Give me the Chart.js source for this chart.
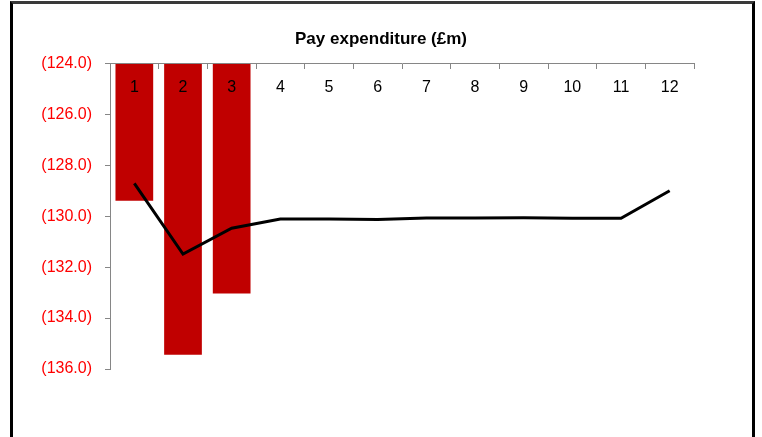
<!DOCTYPE html>
<html>
<head>
<meta charset="utf-8">
<script src="https://cdn.jsdelivr.net/npm/chart.js@4/dist/chart.umd.min.js"></script>
<style>
  html, body { margin: 0; padding: 0; overflow: hidden; background: #fff; }
  #wrap { position: relative; width: 762px; height: 437px; }
  #frame { position: absolute; left: 10px; top: 1px; width: 745px; height: 460px;
           box-sizing: border-box; border-top: 3px solid #3a3a3a;
           border-left: 3px solid #000; border-right: 3px solid #000; pointer-events: none; }
  canvas { position: absolute; left: 0; top: 0; }
</style>
</head>
<body>
<div id="wrap">
  <canvas id="c" width="762" height="437"></canvas>
  <div id="frame"></div>
</div>
<script>
// Data
const titleText = 'Pay expenditure (£m)';
const periods = ['1', '2', '3', '4', '5', '6', '7', '8', '9', '10', '11', '12'];
const actualSpend = [-129.39, -135.44, -133.04];
const forecastSpend = [-128.71, -131.49, -130.47, -130.11, -130.11, -130.13, -130.07, -130.07, -130.06, -130.08, -130.08, -129.0];
const yMin = -136;
const yMax = -124;
const yStep = 2;

const tickFont = { family: '"Liberation Sans", Arial, sans-serif', size: 16 };

new Chart(document.getElementById('c'), {
  data: {
    labels: periods,
    datasets: [
      {
        type: 'line',
        data: forecastSpend,
        borderColor: '#000000',
        borderWidth: 3,
        pointRadius: 0,
        tension: 0,
        fill: false,
        order: 0
      },
      {
        type: 'bar',
        data: actualSpend,
        base: yMax,
        backgroundColor: '#C00000',
        borderWidth: 0,
        barPercentage: 0.775,
        categoryPercentage: 1.0,
        order: 1
      }
    ]
  },
  options: {
    responsive: false,
    animation: false,
    events: [],
    layout: { padding: { left: 0, right: 0, top: 0, bottom: 68 } },
    plugins: {
      legend: { display: false },
      tooltip: { enabled: false },
      title: {
        display: true,
        text: titleText,
        color: '#000',
        font: { family: '"Liberation Sans", Arial, sans-serif', size: 17, weight: 'bold' },
        padding: { top: 29, bottom: 14 }
      }
    },
    scales: {
      x: {
        type: 'category',
        position: { y: yMax },
        offset: true,
        grid: { display: true, drawOnChartArea: false, drawTicks: true, tickLength: 5, color: '#868686', offset: true, z: 1 },
        border: { display: true, color: '#868686', width: 1, z: 1 },
        ticks: { color: '#000', font: tickFont, padding: 10, maxRotation: 0, autoSkip: false, z: 1 }
      },
      y: {
        type: 'linear',
        position: 'left',
        min: yMin,
        max: yMax,
        afterFit: (s) => { s.width = 110; },
        grid: { display: true, drawOnChartArea: false, drawTicks: true, tickLength: 5, color: '#868686' },
        border: { display: true, color: '#868686', width: 1 },
        ticks: {
          stepSize: yStep,
          color: '#FF0000',
          font: tickFont,
          padding: 13,
          callback: (v) => v < 0 ? '(' + Math.abs(v).toFixed(1) + ')' : Number(v).toFixed(1)
        }
      },
      yRight: {
        type: 'linear',
        position: 'right',
        min: yMin,
        max: yMax,
        afterFit: (s) => { s.width = 68; },
        grid: { display: false },
        border: { display: false },
        ticks: { display: false }
      }
    }
  }
});
</script>
</body>
</html>
